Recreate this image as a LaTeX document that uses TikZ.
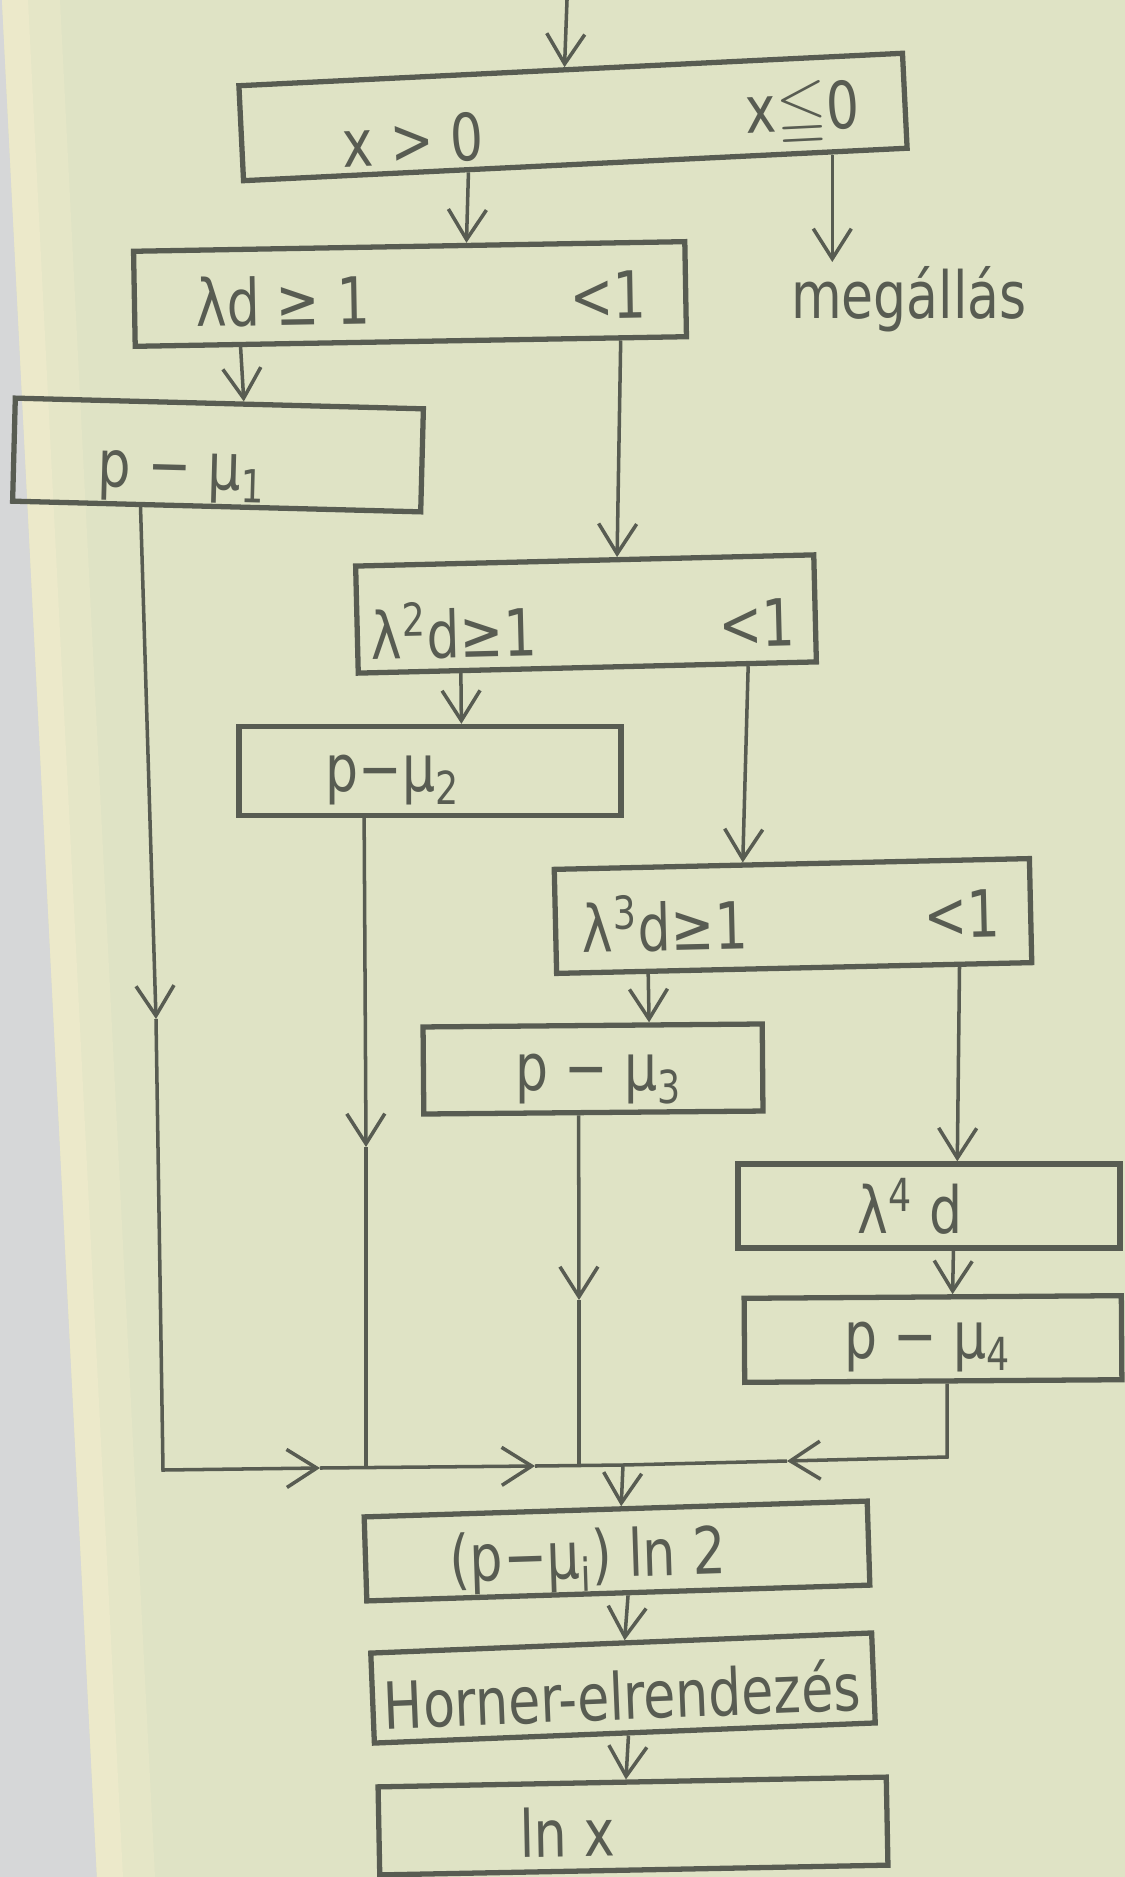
\documentclass[tikz,border=0pt]{standalone}
\usepackage{fontspec}
\usepackage{amssymb}
\setmainfont{DejaVu Sans}[FakeStretch=0.80]
\usetikzlibrary{arrows.meta,calc}

\definecolor{papel}{RGB}{223,227,197}
\definecolor{borde}{RGB}{236,233,202}
\definecolor{gris}{RGB}{214,215,216}
\definecolor{tinta}{RGB}{88,92,82}

\begin{document}
\begin{tikzpicture}[x=0.01cm, y=-0.01cm,
  font=\fontsize{18.5}{22}\selectfont,
  caja/.style={draw=tinta, line width=1.5pt, rectangle, inner sep=0pt},
  texto/.style={text=tinta, inner sep=0pt},
  linea/.style={draw=tinta, line width=1pt},
  flujo/.style={linea, -{Straight Barb[length=3mm, width=3.8mm]}}]
% Hoja de papel
\useasboundingbox (0,0) rectangle (1125,1877);
\fill[gris] (0,0) rectangle (1125,1877);
\fill[papel] (2,0) -- (1125,0) -- (1125,1877) -- (97,1877) -- cycle;
\fill[borde!50!papel] (2,0) -- (60,0) -- (155,1877) -- (97,1877) -- cycle;
\fill[borde] (2,0) -- (28,0) -- (123,1877) -- (97,1877) -- cycle;
% Dobozok
\node[caja, minimum width=6.64cm, minimum height=0.95cm, rotate=2.8] (b1) at (573,117) {};
\node[caja, minimum width=5.51cm, minimum height=0.95cm, rotate=1] (b2) at (410,294) {};
\node[caja, minimum width=4.08cm, minimum height=1.03cm, rotate=-1.5] (b3) at (218,455) {};
\node[caja, minimum width=4.58cm, minimum height=1.07cm, rotate=1.4] (b4) at (586,614) {};
\node[caja, minimum width=3.82cm, minimum height=0.89cm] (b5) at (430,771) {};
\node[caja, minimum width=4.75cm, minimum height=1.04cm, rotate=1.3] (b6) at (793,916) {};
\node[caja, minimum width=3.39cm, minimum height=0.87cm, rotate=0.5] (b7) at (593,1069) {};
\node[caja, minimum width=3.82cm, minimum height=0.84cm] (b8) at (929,1206) {};
\node[caja, minimum width=3.77cm, minimum height=0.84cm, rotate=0.4] (b9) at (933,1339) {};
\node[caja, minimum width=5.03cm, minimum height=0.84cm, rotate=1.8] (b10) at (617,1551) {};
\node[caja, minimum width=5.01cm, minimum height=0.90cm, rotate=2.3] (b11) at (623,1688) {};
\node[caja, minimum width=5.08cm, minimum height=0.88cm, rotate=1.1] (b12) at (633,1826) {};
% Feliratok
\node[texto, rotate=2.8] (t1a) at (413,140) {x > 0};
\node[texto, rotate=2.8] (t1b) at (803,114) {x$\leqq$0};
\node[texto, rotate=1] (t2a) at (283,301) {λd ≥ 1};
\node[texto, rotate=1] (t2b) at (608,295) {<1};
\node[texto, rotate=-1.5] (t3) at (182,477) {p − μ\textsubscript{1}};
\node[texto, rotate=1.4] (t4a) at (454,630) {λ\textsuperscript{2}d≥1};
\node[texto, rotate=1.4] (t4b) at (757,623) {<1};
\node[texto] (t5) at (393,780) {p−μ\textsubscript{2}};
\node[texto, rotate=1.3] (t6a) at (665,923) {λ\textsuperscript{3}d≥1};
\node[texto, rotate=1.3] (t6b) at (962,914) {<1};
\node[texto] (t7) at (599,1079) {p − μ\textsubscript{3}};
\node[texto] (t8) at (910,1206) {λ\textsuperscript{4} d};
\node[texto] (t9) at (928,1347) {p − μ\textsubscript{4}};
\node[texto, rotate=1.8] (t10) at (588,1560) {(p−μ\textsubscript{i}) ln 2};
\node[texto, rotate=2.3] (t11) at (622,1694) {Horner-elrendezés};
\node[texto, rotate=1.1] (t12) at (567,1832) {ln x};
\node[texto, inner sep=1pt] (meg) at (909,299) {megállás};
% Lefele meno nyilak
\coordinate (be) at (567,0);
\draw[flujo] (be) -- ($(b1.north west)!0.491!(b1.north east)$);
\draw[flujo] ($(b1.south west)!0.34!(b1.south east)$) -- ($(b2.north west)!0.603!(b2.north east)$);
\draw[flujo] ($(b1.south west)!0.884!(b1.south east)$) coordinate (s1m) -- (s1m |- meg.north);
\draw[flujo] ($(b2.south west)!0.194!(b2.south east)$) -- ($(b3.north west)!0.559!(b3.north east)$);
\draw[flujo] ($(b2.south west)!0.877!(b2.south east)$) -- ($(b4.north west)!0.57!(b4.north east)$);
\draw[flujo] ($(b4.south west)!0.227!(b4.south east)$) -- ($(b5.north west)!0.581!(b5.north east)$);
\draw[flujo] ($(b4.south west)!0.847!(b4.south east)$) -- ($(b6.north west)!0.398!(b6.north east)$);
\draw[flujo] ($(b6.south west)!0.196!(b6.south east)$) -- ($(b7.north west)!0.664!(b7.north east)$);
\draw[flujo] ($(b6.south west)!0.844!(b6.south east)$) -- ($(b8.north west)!0.573!(b8.north east)$);
\draw[flujo] ($(b8.south west)!0.563!(b8.south east)$) -- ($(b9.north west)!0.552!(b9.north east)$);
% Osszefutas
\coordinate (m1) at (156,1019);
\coordinate (m2) at (366,1147);
\coordinate (m3) at (579,1300);
\coordinate (e1) at (163,1470);
\coordinate (h1) at (320,1468);
\coordinate (e2) at (366,1467);
\coordinate (h2) at (535,1466);
\coordinate (e3) at (579,1466);
\coordinate (j) at (623,1465);
\coordinate (h3) at (787,1461);
\coordinate (e4) at (947,1457);
\draw[flujo] ($(b3.south west)!0.316!(b3.south east)$) -- (m1);
\draw[flujo] (m1) -- (e1) -- (h1);
\draw[flujo] (h1) -- (h2);
\draw[linea] (h2) -- (j);
\draw[flujo] ($(b5.south west)!0.33!(b5.south east)$) -- (m2);
\draw[linea] (m2) -- (e2);
\draw[flujo] ($(b7.south west)!0.457!(b7.south east)$) -- (m3);
\draw[linea] (m3) -- (e3);
\draw[flujo] ($(b9.south west)!0.536!(b9.south east)$) -- (e4) -- (h3);
\draw[linea] (h3) -- (j);
\draw[flujo] (j) -- ($(b10.north west)!0.511!(b10.north east)$);
\draw[flujo] ($(b10.south west)!0.519!(b10.south east)$) -- ($(b11.north west)!0.507!(b11.north east)$);
\draw[flujo] ($(b11.south west)!0.507!(b11.south east)$) -- ($(b12.north west)!0.488!(b12.north east)$);
\end{tikzpicture}
\end{document}
